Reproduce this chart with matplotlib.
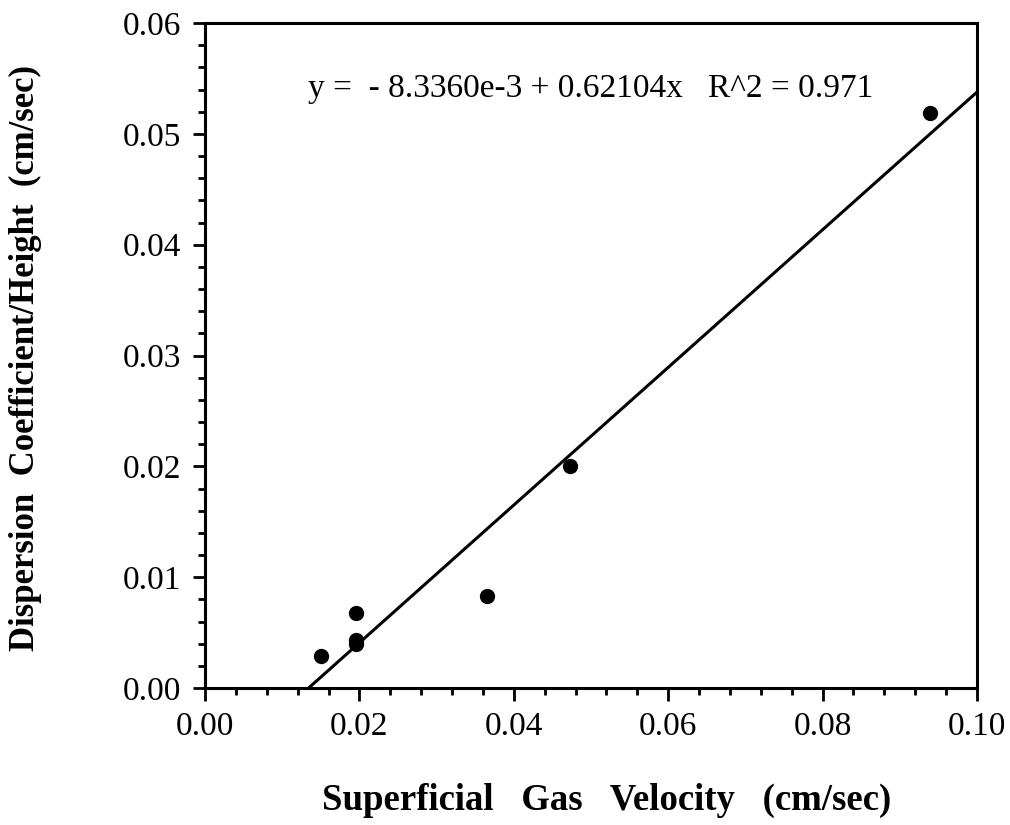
import numpy as np
import matplotlib
matplotlib.use("Agg")
import matplotlib.pyplot as plt
from matplotlib.ticker import MultipleLocator, FormatStrFormatter

# Data
gas_velocity = [0.0150, 0.0196, 0.0196, 0.0196, 0.0365, 0.0473, 0.0939]
dispersion = [0.0029, 0.0068, 0.0043, 0.0040, 0.0083, 0.0200, 0.0519]
fit_intercept = -8.3360e-3
fit_slope = 0.62104
fit_r2 = 0.971
x_ticks = [0.00, 0.02, 0.04, 0.06, 0.08, 0.10]
y_ticks = [0.00, 0.01, 0.02, 0.03, 0.04, 0.05, 0.06]

plt.rcParams['font.family'] = ['Liberation Serif', 'DejaVu Serif']

fig = plt.figure(figsize=(10.10, 8.25), dpi=100)
ax = fig.add_axes([205/1010, 1-688/825, (977-205)/1010, (688-23)/825])

# Fit line clipped at y=0
x0 = -fit_intercept / fit_slope
xf = np.array([x0, x_ticks[-1]])
ax.plot(xf, fit_intercept + fit_slope * xf, color='black', lw=2.2, solid_capstyle='butt')
ax.plot(gas_velocity, dispersion, 'o', color='black', ms=10, zorder=3)

ax.set_xlim(x_ticks[0], x_ticks[-1])
ax.set_ylim(y_ticks[0], y_ticks[-1])
ax.set_xticks(x_ticks)
ax.set_yticks(y_ticks)
ax.xaxis.set_major_formatter(FormatStrFormatter('%.2f'))
ax.yaxis.set_major_formatter(FormatStrFormatter('%.2f'))
ax.xaxis.set_minor_locator(MultipleLocator(0.004))
ax.yaxis.set_minor_locator(MultipleLocator(0.002))
ax.tick_params(which='major', direction='out', length=9, width=2, labelsize=24, pad=8)
ax.tick_params(which='minor', direction='out', length=5, width=2)
ax.tick_params(top=False, right=False)
for s in ax.spines.values():
    s.set_linewidth(2.2)

ax.text(0.0134, 0.0533,
        "y =  - 8.3360e-3 + 0.62104x   R^2 = 0.971",
        fontsize=24, ha='left', va='baseline')

fig.text(607/1010, 1-800/825, "Superficial   Gas   Velocity   (cm/sec)",
         fontsize=26.5, fontweight='bold', ha='center', va='center')
fig.text(25/1010, 1-358/825, "Dispersion  Coefficient/Height  (cm/sec)",
         fontsize=25, fontweight='bold', ha='center', va='center', rotation=90)

fig.savefig("out.png", dpi=100)
